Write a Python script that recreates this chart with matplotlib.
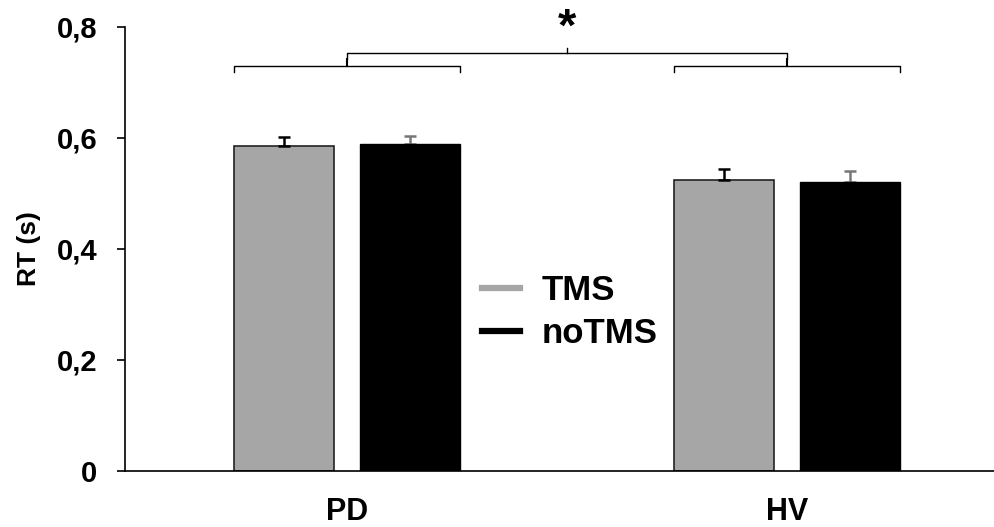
import numpy as np
import matplotlib.pyplot as plt
from matplotlib.lines import Line2D

plt.rcParams['font.family'] = ['Liberation Sans', 'DejaVu Sans']
plt.rcParams['font.weight'] = 'bold'

groups = ['PD', 'HV']
tms = [0.586, 0.524]
notms = [0.589, 0.520]
tms_err = [0.015, 0.021]
notms_err = [0.015, 0.020]
yticks = [0, 0.2, 0.4, 0.6, 0.8]
ytick_labels = ['0', '0,2', '0,4', '0,6', '0,8']

gray = '#a6a6a6'

fig = plt.figure(figsize=(9.94, 5.27), dpi=100)
ax = fig.add_axes([0.1258, 0.1063, 0.8742, 0.8425])

x = np.arange(len(groups))
w = 0.227
off = 0.143

ax.bar(x - off, tms, w, color=gray, edgecolor='#222222', linewidth=1.2, zorder=2)
ax.bar(x + off, notms, w, color='black', edgecolor='black', linewidth=1.0, zorder=2)
ax.errorbar(x - off, tms, yerr=[np.zeros(2), tms_err], fmt='none', ecolor='black',
            elinewidth=1.8, capsize=4.5, capthick=1.8, zorder=3)
ax.errorbar(x + off, notms, yerr=[np.zeros(2), notms_err], fmt='none', ecolor='#777777',
            elinewidth=1.8, capsize=4.5, capthick=1.8, zorder=1)

# brackets
for c in x:
    l, r = c - off - w / 2, c + off + w / 2
    ax.plot([l, l, r, r], [0.719, 0.730, 0.730, 0.719], color='black', lw=1, clip_on=False)
    ax.plot([c, c], [0.730, 0.742], color='black', lw=1.5, clip_on=False)
ax.plot([x[0], x[0], x[1], x[1]], [0.742, 0.753, 0.753, 0.742], color='black', lw=1, clip_on=False)
mid = (x[0] + x[1]) / 2
ax.plot([mid, mid], [0.753, 0.762], color='black', lw=1, clip_on=False)
ax.text(mid, 0.775, '*', ha='center', va='baseline', fontsize=34, fontweight='bold', clip_on=False)

ax.set_xlim(-0.5045, 1.4705)
ax.set_ylim(0, 0.8)
ax.set_yticks(yticks)
ax.set_yticklabels(ytick_labels, fontsize=21, fontweight='bold')
ax.set_xticks(x)
ax.set_xticklabels(groups, fontsize=22, fontweight='bold')
ax.tick_params(axis='x', length=0, pad=19)
ax.tick_params(axis='y', length=6, width=1.2, pad=14)
ax.set_ylabel('RT (s)', fontsize=19, fontweight='bold')
ax.yaxis.set_label_coords(-0.097, 0.5)
ax.spines['top'].set_visible(False)
ax.spines['right'].set_visible(False)
ax.spines['left'].set_linewidth(1.2)
ax.spines['bottom'].set_linewidth(1.2)

handles = [Line2D([], [], color=gray, lw=4.5), Line2D([], [], color='black', lw=4.5)]
ax.legend(handles, ['TMS', 'noTMS'], loc='center left', bbox_to_anchor=(0.411, 0.358),
          frameon=False, prop={'size': 25, 'weight': 'bold'}, handlelength=1.1,
          handletextpad=0.6, labelspacing=0.3, borderpad=0, borderaxespad=0)

fig.savefig('out.png', dpi=100)
